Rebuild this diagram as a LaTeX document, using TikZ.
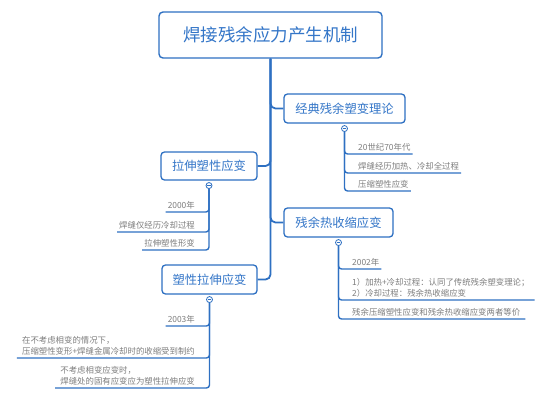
\documentclass[tikz,border=0pt]{standalone}
\usepackage{fontspec}
\setmainfont{Noto Sans CJK SC}
\usetikzlibrary{positioning}
\definecolor{mapblue}{RGB}{46,112,194}
\definecolor{boxtext}{RGB}{52,118,200}
\definecolor{itemgray}{RGB}{125,125,125}
\tikzset{
  rootbox/.style={draw=mapblue, line width=1.4pt, rounded corners=4pt, fill=white,
    text=boxtext, inner sep=0pt, minimum width=223pt, minimum height=46pt,
    font=\fontsize{17.5}{20}\selectfont},
  topicbox/.style={draw=mapblue, line width=1.3pt, rounded corners=3.5pt, fill=white,
    text=boxtext, inner sep=0pt, minimum height=29pt,
    font=\fontsize{12.3}{14}\selectfont},
  toggle/.style={circle, draw=mapblue, line width=0.8pt, fill=white, inner sep=0pt,
    minimum size=6pt,
    path picture={\draw[mapblue, line width=0.6pt]
      ([xshift=-1.7pt]path picture bounding box.center) --
      ([xshift=1.7pt]path picture bounding box.center);}},
  itemtext/.style={text=itemgray, inner xsep=2pt, inner ysep=2.5pt, align=left,
    font=\fontsize{8.4}{11}\selectfont},
  trunk/.style={draw=mapblue, line width=1.8pt, rounded corners=5pt},
  stem/.style={draw=mapblue, line width=1.4pt, rounded corners=3pt},
}
\begin{document}
\begin{tikzpicture}[x=1pt, y=-1pt]
  \useasboundingbox (0,0) rectangle (553,401);

  % Root
  \node[rootbox] (root) at (270.5,35) {焊接残余应力产生机制};

  % Main topics
  \node[topicbox, minimum width=121pt] (b1) at (344.5,108.5) {经典残余塑变理论};
  \node[topicbox, minimum width=96pt, minimum height=28pt] (b2) at (209,166) {拉伸塑性应变};
  \node[topicbox, minimum width=109pt] (b3) at (338.5,222.5) {残余热收缩应变};
  \node[topicbox, minimum width=95pt] (b4) at (209.5,279.5) {塑性拉伸应变};

  % Trunk
  \draw[trunk] (root.south) |- (b1.west);
  \draw[trunk] (root.south) |- (b2.east);
  \draw[trunk] (root.south) |- (b3.west);
  \draw[trunk] (root.south) |- (b4.east);

  % Toggles
  \node[toggle, below=1.5pt of b1] (c1) {};
  \node[toggle, below=1.5pt of b2] (c2) {};
  \node[toggle, below=1.5pt of b3] (c3) {};
  \node[toggle, below=1.5pt of b4] (c4) {};

  % Topic 1 items
  \node[itemtext, anchor=south west] (i11) at (356,154) {20世纪70年代};
  \node[itemtext, anchor=south west] (i12) at (356,173) {焊缝经历加热、冷却全过程};
  \node[itemtext, anchor=south west] (i13) at (356,191) {压缩塑性应变};
  \foreach \i in {i11,i12,i13}
    \draw[stem] (c1.south) |- (\i.south east);

  % Topic 2 items
  \node[itemtext, anchor=south east] (i21) at (197,212) {2000年};
  \node[itemtext, anchor=south east] (i22) at (197,232) {焊缝仅经历冷却过程};
  \node[itemtext, anchor=south east] (i23) at (197,250) {拉伸塑性形变};
  \foreach \i in {i21,i22,i23}
    \draw[stem] (c2.south) |- (\i.south west);

  % Topic 3 items
  \node[itemtext, anchor=south west] (i31) at (350,269) {2002年};
  \node[itemtext, anchor=south west, inner xsep=5pt] (i32) at (347,300)
    {1）加热+冷却过程：认同了传统残余塑变理论；\\2）冷却过程：残余热收缩应变};
  \node[itemtext, anchor=south west, inner xsep=5pt] (i33) at (347,319)
    {残余压缩塑性应变和残余热收缩应变两者等价};
  \foreach \i in {i31,i32,i33}
    \draw[stem] (c3.south) |- (\i.south east);

  % Topic 4 items
  \node[itemtext, anchor=south east] (i41) at (197,326) {2003年};
  \node[itemtext, anchor=south east, inner xsep=5pt] (i42) at (200,358)
    {在不考虑相变的情况下，\\压缩塑性变形+焊缝金属冷却时的收缩受到制约};
  \node[itemtext, anchor=south east, inner xsep=5pt] (i43) at (200,388)
    {不考虑相变应变时，\\焊缝处的固有应变应为塑性拉伸应变};
  \foreach \i in {i41,i42,i43}
    \draw[stem] (c4.south) |- (\i.south west);
\end{tikzpicture}
\end{document}
